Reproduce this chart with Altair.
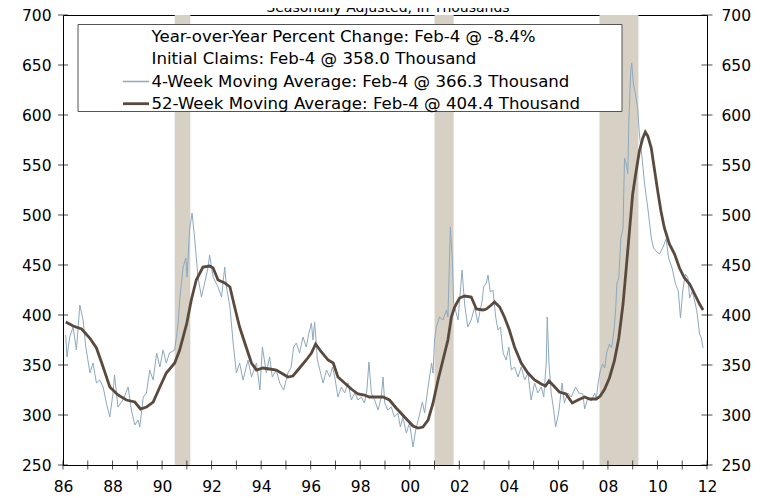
import altair as alt
import pandas as pd

# ---------------- data ----------------
recession_start = [1990.51, 2001.00, 2007.66]
recession_end = [1991.14, 2001.77, 2009.23]

ma4_year = [
    1986.11, 1986.16, 1986.27, 1986.41, 1986.54, 1986.68, 1986.81, 1986.92, 1987.09, 1987.21,
    1987.35, 1987.48, 1987.62, 1987.75, 1987.89, 1988.02, 1988.08, 1988.22, 1988.42, 1988.63,
    1988.76, 1988.90, 1989.03, 1989.10, 1989.24, 1989.37, 1989.50, 1989.64, 1989.78, 1989.91,
    1990.04, 1990.17, 1990.30, 1990.51, 1990.65, 1990.71, 1990.85, 1990.96, 1991.01, 1991.11,
    1991.21, 1991.31, 1991.45, 1991.59, 1991.72, 1991.86, 1991.92, 1992.06, 1992.26, 1992.40,
    1992.53, 1992.60, 1992.74, 1992.87, 1993.00, 1993.13, 1993.27, 1993.47, 1993.61, 1993.81,
    1993.95, 1994.05, 1994.21, 1994.34, 1994.45, 1994.61, 1994.75, 1994.91, 1995.08, 1995.21,
    1995.31, 1995.42, 1995.55, 1995.69, 1995.82, 1995.93, 1996.03, 1996.09, 1996.16, 1996.27,
    1996.37, 1996.50, 1996.64, 1996.77, 1996.88, 1996.97, 1997.10, 1997.24, 1997.37, 1997.51,
    1997.64, 1997.78, 1997.91, 1998.04, 1998.17, 1998.27, 1998.35, 1998.45, 1998.58, 1998.72,
    1998.85, 1998.92, 1998.99, 1999.11, 1999.25, 1999.38, 1999.52, 1999.62, 1999.72, 1999.86,
    1999.99, 2000.13, 2000.24, 2000.37, 2000.51, 2000.60, 2000.74, 2000.88, 2000.94, 2001.00,
    2001.07, 2001.20, 2001.34, 2001.48, 2001.54, 2001.64, 2001.72, 2001.77, 2001.95, 2002.11,
    2002.21, 2002.34, 2002.48, 2002.62, 2002.75, 2002.82, 2002.93, 2002.98, 2003.09, 2003.16,
    2003.25, 2003.36, 2003.47, 2003.56, 2003.66, 2003.77, 2003.89, 2004.00, 2004.10, 2004.23,
    2004.37, 2004.50, 2004.64, 2004.77, 2004.90, 2005.04, 2005.17, 2005.31, 2005.41, 2005.51,
    2005.55, 2005.62, 2005.71, 2005.81, 2005.89, 2006.01, 2006.15, 2006.24, 2006.38, 2006.52,
    2006.69, 2006.83, 2006.99, 2007.06, 2007.19, 2007.33, 2007.46, 2007.53, 2007.60, 2007.69,
    2007.78, 2007.87, 2007.95, 2008.06, 2008.15, 2008.24, 2008.31, 2008.36, 2008.44, 2008.52,
    2008.61, 2008.67, 2008.74, 2008.80, 2008.85, 2008.92, 2008.96, 2009.03, 2009.11, 2009.20,
    2009.27, 2009.38, 2009.48, 2009.61, 2009.75, 2009.84, 2009.94, 2010.08, 2010.21, 2010.35,
    2010.45, 2010.59, 2010.73, 2010.84, 2010.93, 2011.02, 2011.13, 2011.23, 2011.30, 2011.41,
    2011.50, 2011.59, 2011.70, 2011.77, 2011.84,
]
ma4_value = [
    380, 358, 378, 388, 365, 410, 395, 368, 342, 352,
    332, 335, 328, 312, 298, 322, 340, 308, 315, 328,
    305, 290, 295, 288, 318, 322, 345, 335, 362, 348,
    365, 352, 362, 365, 392, 415, 448, 457, 438, 485,
    502, 478, 438, 418, 432, 448, 460, 438, 428, 418,
    448, 428, 408, 372, 342, 352, 335, 355, 338, 352,
    325, 368, 342, 358, 338, 345, 332, 325, 342, 348,
    368, 372, 362, 378, 368, 382, 392, 375, 393, 355,
    345, 332, 345, 338, 348, 338, 318, 328, 322, 332,
    315, 322, 315, 318, 312, 325, 353, 322, 315, 305,
    318, 338, 312, 305, 308, 298, 302, 288, 298, 282,
    292, 268, 285, 298, 313, 302, 328, 352, 342, 375,
    388, 398, 395, 405, 398, 488, 455, 412, 395, 445,
    412, 388, 395, 408, 392, 402, 415, 428, 432, 440,
    423, 425, 398, 385, 388, 362, 355, 368, 345, 348,
    338, 348, 335, 342, 315, 332, 322, 328, 318, 352,
    398, 352, 322, 305, 288, 302, 332, 312, 322, 318,
    328, 322, 321, 306, 317, 314, 322, 316, 331, 344,
    351, 347, 362, 371, 367, 384, 404, 431, 437, 477,
    487, 557, 551, 541, 597, 644, 652, 631, 621, 607,
    581, 557, 531, 507, 477, 467, 464, 461, 467, 476,
    457, 447, 431, 424, 397, 424, 441, 437, 417, 424,
    414, 404, 381, 377, 367,
]

ma52_year = [
    1986.11, 1986.41, 1986.75, 1987.08, 1987.35, 1987.62, 1987.89, 1988.22, 1988.56, 1988.90,
    1989.13, 1989.37, 1989.64, 1989.91, 1990.17, 1990.51, 1990.71, 1991.00, 1991.18, 1991.38,
    1991.65, 1991.92, 1992.06, 1992.26, 1992.53, 1992.74, 1992.93, 1993.13, 1993.34, 1993.61,
    1993.81, 1994.07, 1994.34, 1994.61, 1994.88, 1995.08, 1995.28, 1995.55, 1995.82, 1996.03,
    1996.20, 1996.43, 1996.70, 1996.91, 1997.10, 1997.37, 1997.64, 1997.91, 1998.17, 1998.37,
    1998.65, 1998.92, 1999.18, 1999.45, 1999.79, 2000.13, 2000.33, 2000.53, 2000.74, 2000.94,
    2001.14, 2001.34, 2001.54, 2001.68, 2001.81, 2002.01, 2002.21, 2002.48, 2002.69, 2002.96,
    2003.09, 2003.29, 2003.42, 2003.63, 2003.82, 2004.02, 2004.23, 2004.50, 2004.77, 2005.04,
    2005.31, 2005.48, 2005.62, 2005.78, 2006.04, 2006.31, 2006.56, 2006.79, 2007.06, 2007.26,
    2007.53, 2007.69, 2007.87, 2008.06, 2008.26, 2008.44, 2008.61, 2008.74, 2008.88, 2009.00,
    2009.14, 2009.27, 2009.41, 2009.51, 2009.61, 2009.75, 2009.87, 2010.01, 2010.14, 2010.28,
    2010.48, 2010.69, 2010.89, 2011.09, 2011.30, 2011.50, 2011.70, 2011.84,
]
ma52_value = [
    393, 389, 386, 377, 367, 348, 328, 320, 315, 313,
    306, 308, 313, 328, 342, 352, 365, 392, 415, 435,
    448, 449, 447, 435, 432, 428, 408, 388, 372, 352,
    345, 347, 346, 345, 341, 338, 339, 347, 355, 362,
    371, 363, 355, 352, 338, 332, 326, 321, 320, 318,
    318, 318, 315, 307, 298, 289, 287, 288, 295, 312,
    335, 355, 375, 398, 408, 417, 419, 418, 406, 405,
    406, 410, 413, 408, 398, 385, 368, 352, 342, 335,
    331, 329, 334, 330, 323, 321, 312, 315, 318, 316,
    316, 319, 326, 337, 354, 377, 411, 447, 487, 521,
    544, 564, 577, 583, 579, 567, 547, 524, 504, 487,
    471, 461, 447, 437, 431, 421, 411, 405,
]

x_label_values = list(range(1986, 2013, 2))
x_tick_values = list(range(1986, 2013))
y_tick_values = list(range(250, 701, 50))

title_text = "Seasonally Adjusted, In Thousands"
legend_labels = [
    "Year-over-Year Percent Change: Feb-4 @ -8.4%",
    "Initial Claims: Feb-4 @ 358.0 Thousand",
    "4-Week Moving Average: Feb-4 @ 366.3 Thousand",
    "52-Week Moving Average: Feb-4 @ 404.4 Thousand",
]

# ---------------- style ----------------
FONT = "DejaVu Sans"
W, H = 644, 450
C_BAND = "#D6D1C4"
C_MA4 = "#8DA8BF"
C_MA52 = "#5A4A3E"

rec_df = pd.DataFrame({"start": recession_start, "end": recession_end})
ma4_df = pd.DataFrame({"year": ma4_year, "value": ma4_value})
ma52_df = pd.DataFrame({"year": ma52_year, "value": ma52_value})
xt_df = pd.DataFrame({"yr": x_tick_values})
yt_df = pd.DataFrame({"v": y_tick_values})

xs = alt.Scale(domain=[1986, 2012], nice=False, zero=False)


def ys():
    return alt.Scale(domain=[250, 700], nice=False, zero=False)


x_axis = alt.Axis(
    values=x_label_values, title=None, ticks=False, tickSize=0, domain=False, grid=False,
    labelExpr="substring(toString(datum.value), 2, 4)", labelFont=FONT, labelFontSize=15.5,
    labelColor="black", labelPadding=14, labelFlush=False, labelOverlap=False,
)
left_axis = alt.Axis(
    values=y_tick_values, orient="left", title=None, ticks=False, tickSize=0, domain=False,
    grid=False, labelFont=FONT, labelFontSize=15.5, labelColor="black", labelPadding=12,
)
right_axis = alt.Axis(
    values=y_tick_values, orient="right", title=None, ticks=False, tickSize=0, domain=False,
    grid=False, labelFont=FONT, labelFontSize=15.5, labelColor="black", labelPadding=14,
)

bands = alt.Chart(rec_df).mark_rect(color=C_BAND).encode(
    x=alt.X("start:Q", scale=xs, axis=x_axis),
    x2="end:Q",
    y=alt.value(0),
    y2=alt.value(H),
)

ma4 = alt.Chart(ma4_df).mark_line(color=C_MA4, strokeWidth=1).encode(
    x=alt.X("year:Q", scale=xs, axis=x_axis),
    y=alt.Y("value:Q", scale=ys(), axis=left_axis),
)

ma52 = alt.Chart(ma52_df).mark_line(color=C_MA52, strokeWidth=2.8).encode(
    x=alt.X("year:Q", scale=xs, axis=x_axis),
    y=alt.Y("value:Q", scale=ys(), axis=None),
)

x_ticks = alt.Chart(xt_df).mark_tick(orient="vertical", color="black", size=9, thickness=1).encode(
    x=alt.X("yr:Q", scale=xs, axis=x_axis),
    y=alt.value(H),
)
ly_ticks = alt.Chart(yt_df).mark_tick(orient="horizontal", color="black", size=10, thickness=1).encode(
    y=alt.Y("v:Q", scale=ys(), axis=None),
    x=alt.value(0),
)
ry_ticks = alt.Chart(yt_df).mark_tick(orient="horizontal", color="black", size=11, thickness=1).encode(
    y=alt.Y("v:Q", scale=ys(), axis=right_axis),
    x=alt.value(W),
)

# legend box (drawn by hand)
leg_box = alt.Chart(pd.DataFrame({"k": [0]})).mark_rect(
    fill="white", stroke="#555555", strokeWidth=1
).encode(x=alt.value(15), x2=alt.value(559), y=alt.value(9.5), y2=alt.value(96.5))

leg_layers = []
row_y = [21.8, 44.2, 66.5, 88.7]
for lab, ry in zip(legend_labels, row_y):
    leg_layers.append(
        alt.Chart(pd.DataFrame({"t": [lab]})).mark_text(
            align="left", baseline="middle", font=FONT, fontSize=16.6, color="black"
        ).encode(x=alt.value(88.5), y=alt.value(ry), text="t:N")
    )
sym4 = alt.Chart(pd.DataFrame({"k": [0]})).mark_rule(color=C_MA4, strokeWidth=1.5).encode(
    x=alt.value(60), x2=alt.value(86), y=alt.value(row_y[2])
)
sym52 = alt.Chart(pd.DataFrame({"k": [0]})).mark_rule(color=C_MA52, strokeWidth=2.8).encode(
    x=alt.value(60), x2=alt.value(86), y=alt.value(row_y[3])
)

# chart title: cut off at the top edge, as in the reference
title = alt.Chart(pd.DataFrame({"t": [title_text]})).mark_text(
    align="center", baseline="alphabetic", font=FONT, fontSize=14, color="black"
).encode(x=alt.value(W / 2 + 3), y=alt.value(-3), text="t:N")

chart = alt.layer(
    bands, ma4, ma52, x_ticks, ly_ticks, ry_ticks, leg_box, *leg_layers, sym4, sym52, title
).resolve_scale(y="independent").properties(
    width=W, height=H,
    autosize=alt.AutoSizeParams(type="none"),
    padding={"left": 55, "top": 7, "right": 52, "bottom": 30},
).configure_view(stroke="black", strokeWidth=1)

chart.save("out.html", embed_options={"renderer": "svg", "actions": False})
